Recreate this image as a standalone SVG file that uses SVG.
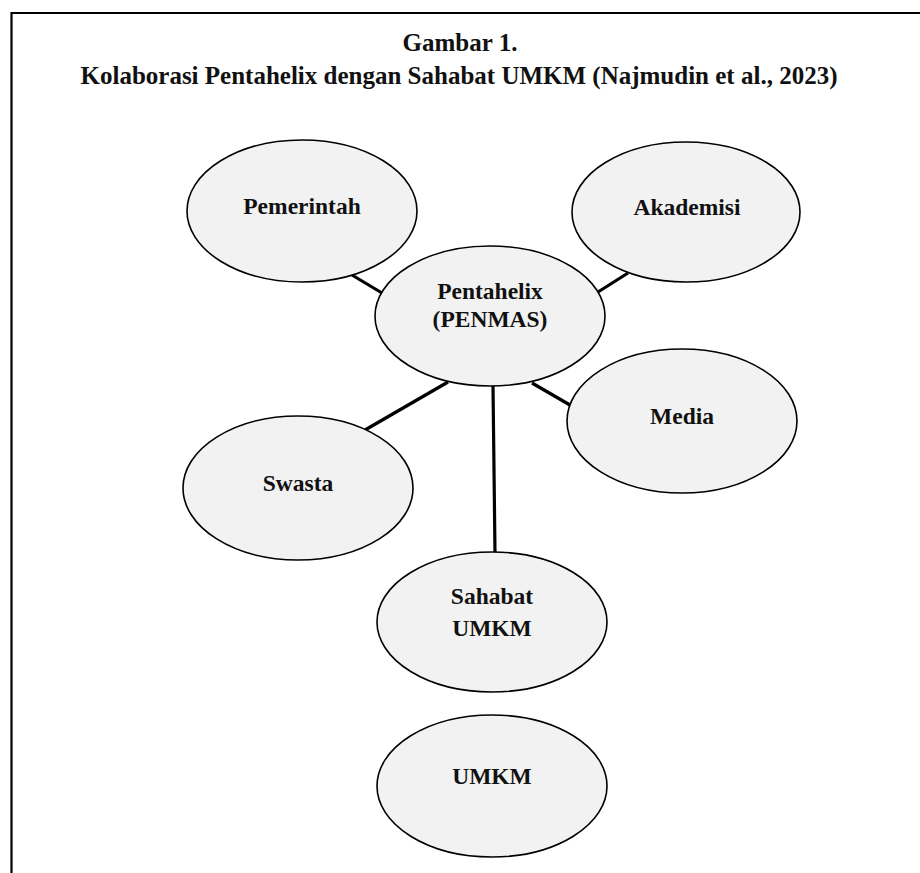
<svg xmlns="http://www.w3.org/2000/svg" width="920" height="873" viewBox="0 0 920 873">
<style>
.node ellipse{fill:#f2f2f2;stroke:#000;stroke-width:1.6}
.node text,.title{font-family:"Liberation Serif","Times New Roman",serif;font-weight:bold;fill:#111;text-anchor:middle}
.node text{font-size:23.5px}
.title{font-size:25px}
.edges line{stroke:#000;stroke-width:3.2}
</style>
<rect width="920" height="873" fill="#fff"/>
<path d="M11.5 873 V13 H920" fill="none" stroke="#000" stroke-width="2.2"/>
<text class="title" x="460" y="51">Gambar 1.</text>
<text class="title" x="459" y="84">Kolaborasi Pentahelix dengan Sahabat UMKM (Najmudin et al., 2023)</text>
<g class="edges">
<line x1="352" y1="275" x2="382" y2="293"/>
<line x1="598" y1="292" x2="628" y2="273"/>
<line x1="365" y1="430" x2="448" y2="382"/>
<line x1="532" y1="383" x2="570" y2="405"/>
<line x1="493" y1="386" x2="495" y2="553"/>
</g>
<g id="pemerintah" class="node"><ellipse cx="302" cy="211" rx="115" ry="71"/><text x="302" y="214">Pemerintah</text></g>
<g id="akademisi" class="node"><ellipse cx="686" cy="212" rx="114" ry="70"/><text x="687" y="215">Akademisi</text></g>
<g id="pentahelix" class="node"><ellipse cx="490" cy="316" rx="115" ry="70"/><text x="490" y="299">Pentahelix</text><text x="490" y="327">(PENMAS)</text></g>
<g id="media" class="node"><ellipse cx="682" cy="421" rx="115" ry="72"/><text x="682" y="424">Media</text></g>
<g id="swasta" class="node"><ellipse cx="298" cy="488" rx="115" ry="72"/><text x="298" y="491">Swasta</text></g>
<g id="sahabat" class="node"><ellipse cx="492" cy="622" rx="115" ry="70"/><text x="492" y="604">Sahabat</text><text x="492" y="636">UMKM</text></g>
<g id="umkm" class="node"><ellipse cx="492" cy="786" rx="115" ry="71"/><text x="492" y="784">UMKM</text></g>
</svg>
